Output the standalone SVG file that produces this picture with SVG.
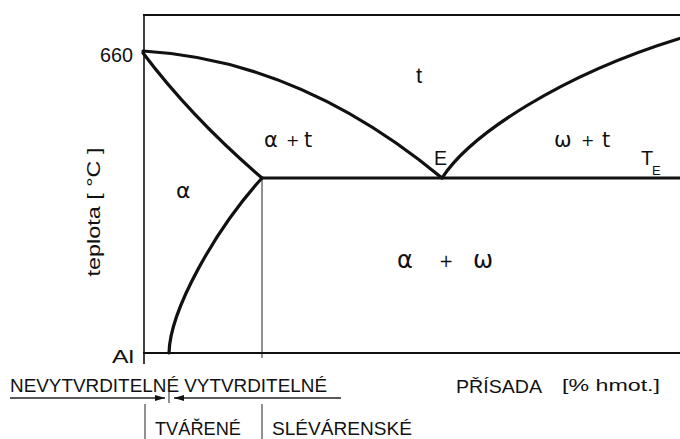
<svg xmlns="http://www.w3.org/2000/svg" width="680" height="439" viewBox="0 0 680 439">
<style>
.ax{stroke:#111;stroke-width:2;fill:none}
.thin{stroke:#222;stroke-width:1;fill:none}
.cv{stroke:#111;stroke-width:3.2;fill:none;stroke-linecap:round;stroke-linejoin:round}
.lbl{font-family:"Liberation Sans","DejaVu Sans",sans-serif;fill:#111}
.gk{font-family:"DejaVu Sans","Liberation Sans",sans-serif;fill:#111}
</style>
<defs>
<marker id="ah" viewBox="0 0 10 6" refX="10" refY="3" markerWidth="10" markerHeight="6" markerUnits="userSpaceOnUse" orient="auto">
<path d="M0,0 L10,3 L0,6 Z" fill="#111"/>
</marker>
</defs>
<rect width="680" height="439" fill="#fff"/>
<g id="axes">
<line class="ax" x1="143" y1="15" x2="680" y2="15"/>
<line class="ax" x1="144" y1="14" x2="144" y2="364" style="stroke-width:1.6"/>
<line class="ax" x1="143" y1="353" x2="680" y2="353"/>
<line class="thin" x1="262" y1="178" x2="262" y2="358"/>
</g>
<g id="connectors">
<path id="liquidus-left" class="cv" d="M143,51 Q300,60 442,178"/>
<path id="solidus" class="cv" d="M143,53 Q192,118 262,178"/>
<path id="solvus" class="cv" d="M169,353 C170,310 215,230 262,178"/>
<path id="liquidus-right" class="cv" d="M442,178 C470,135 560,75 681,38"/>
<line id="eutectic" class="cv" x1="262" y1="178" x2="681" y2="178"/>
</g>
<g id="axis-labels">
<text class="lbl" x="133" y="62" font-size="21" text-anchor="end" textLength="33" lengthAdjust="spacingAndGlyphs">660</text>
<text class="lbl" x="134" y="363" font-size="18" text-anchor="end" textLength="22" lengthAdjust="spacingAndGlyphs">Al</text>
<text class="lbl" transform="translate(100,212) rotate(-90)" font-size="18" text-anchor="middle" textLength="129" lengthAdjust="spacingAndGlyphs">teplota  [ °C ]</text>
<text class="lbl" x="456" y="393" font-size="18" textLength="86" lengthAdjust="spacingAndGlyphs">PŘÍSADA</text>
<text class="lbl" x="562" y="391" font-size="16" textLength="98" lengthAdjust="spacingAndGlyphs">[% hmot.]</text>
</g>
<g id="region-labels">
<text class="lbl" x="419" y="83" font-size="22" text-anchor="middle">t</text>
<text class="gk" font-size="21"><tspan x="264" y="147">α</tspan><tspan x="286" y="146" font-size="16">+</tspan><tspan x="304" y="147">t</tspan></text>
<text class="gk" x="176" y="198" font-size="22">α</text>
<text class="lbl" x="434" y="165" font-size="20" textLength="13" lengthAdjust="spacingAndGlyphs">E</text>
<text class="gk" font-size="21"><tspan x="554" y="147">ω</tspan><tspan x="581" y="146" font-size="16">+</tspan><tspan x="602" y="147">t</tspan></text>
<text class="lbl" x="641" y="165" font-size="20">T<tspan x="652" y="175" font-size="13">E</tspan></text>
<text class="gk" font-size="24"><tspan x="397" y="268">α</tspan><tspan x="439" y="267" font-size="17">+</tspan><tspan x="473" y="268">ω</tspan></text>
</g>
<g id="classification">
<text class="lbl" x="10" y="392" font-size="19" textLength="317" lengthAdjust="spacingAndGlyphs">NEVYTVRDITELNÉ  VYTVRDITELNÉ</text>
<line class="thin" x1="10" y1="398" x2="165" y2="398" style="stroke-width:1.6" marker-end="url(#ah)"/>
<line class="thin" x1="341" y1="398" x2="174" y2="398" style="stroke-width:1.6" marker-end="url(#ah)"/>
<line class="thin" x1="169" y1="392" x2="169" y2="403"/>
<line class="thin" x1="145" y1="404" x2="145" y2="439"/>
<line class="thin" x1="262" y1="404" x2="262" y2="439"/>
<text class="lbl" x="155" y="435" font-size="19" textLength="86" lengthAdjust="spacingAndGlyphs">TVÁŘENÉ</text>
<text class="lbl" x="272" y="435" font-size="19" textLength="140" lengthAdjust="spacingAndGlyphs">SLÉVÁRENSKÉ</text>
</g>
</svg>
